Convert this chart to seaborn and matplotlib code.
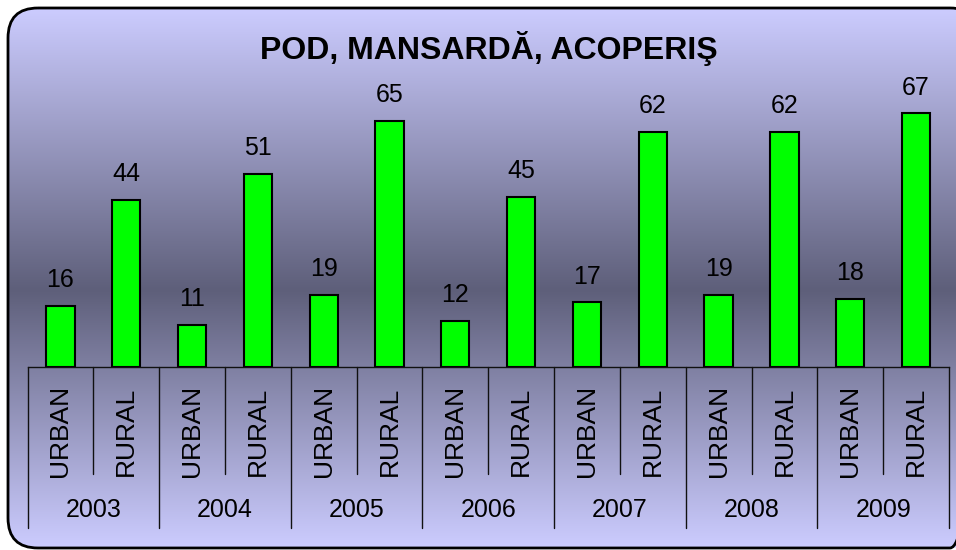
import numpy as np
import pandas as pd
import matplotlib
matplotlib.use("Agg")
import matplotlib.pyplot as plt
from matplotlib.patches import FancyBboxPatch
import seaborn as sns

# data
years = ["2003", "2004", "2005", "2006", "2007", "2008", "2009"]
areas = ["URBAN", "RURAL"]
urban = [16, 11, 19, 12, 17, 19, 18]
rural = [44, 51, 65, 45, 62, 62, 67]
title = "POD, MANSARDĂ, ACOPERIŞ"

rows = []
for y, u, r in zip(years, urban, rural):
    rows.append({"slot": f"{y} URBAN", "year": y, "area": "URBAN", "value": u})
    rows.append({"slot": f"{y} RURAL", "year": y, "area": "RURAL", "value": r})
df = pd.DataFrame(rows)

sns.set_theme(style="white")
plt.rcParams["font.family"] = ["Liberation Sans", "DejaVu Sans"]
plt.rcParams["text.color"] = "black"

W, H = 956, 550
fig = plt.figure(figsize=(W / 100, H / 100), dpi=100)

# --- background: rounded box with vertical gradient ---
bg = fig.add_axes([0, 0, 1, 1], zorder=0)
bg.set_xlim(0, W)
bg.set_ylim(H, 0)
bg.axis("off")
light = np.array([204, 204, 255]) / 255
dark = np.array([94, 95, 122]) / 255
yy = np.linspace(8, 548, 400)
t = np.where(yy < 290, (yy - 8) / (290 - 8), (548 - yy) / (548 - 290))
grad = light[None, :] * (1 - t[:, None]) + dark[None, :] * t[:, None]
img = bg.imshow(grad[:, None, :], extent=[8, 980, 548, 8], aspect="auto", interpolation="bilinear")
box = FancyBboxPatch((8, 8), 972, 540, boxstyle="round,pad=0,rounding_size=30",
                     facecolor="none", edgecolor="black", linewidth=2)
bg.add_patch(box)
img.set_clip_path(box)

fig.text(489 / W, 1 - 49 / H, title, ha="center", va="center",
         fontsize=23, fontweight="bold", color="black")

# --- main chart ---
left, right, base, top = 27.5, 949, 366.7, 80
ax = fig.add_axes([left / W, 1 - base / H, (right - left) / W, (base - top) / H], zorder=1)
ax.set_facecolor("none")
order = list(df["slot"])
sns.barplot(data=df, x="slot", y="value", order=order, color="#00FF00", saturation=1,
            edgecolor="black", linewidth=1.5, width=0.43, ax=ax)
ax.set_xlim(-0.5, len(order) - 0.5)
ax.set_ylim(0, (base - top) / 3.78)
ax.bar_label(ax.containers[0], padding=10, fontsize=18, color="black")

for s in ["top", "left", "right"]:
    ax.spines[s].set_visible(False)
ax.spines["bottom"].set_color("#111111")
ax.spines["bottom"].set_linewidth(1)
ax.set_xticks([])
ax.set_yticks([])
ax.set_xlabel("")
ax.set_ylabel("")

# category table below the axis
ah = base - top
tr = ax.get_xaxis_transform()
def frac(px):
    return -(px - base) / ah

for i, area in enumerate(df["area"]):
    ax.text(i, frac(431), area, rotation=90, ha="center", va="center",
            fontsize=19, color="black", transform=tr)
for j, y in enumerate(years):
    ax.text(2 * j + 0.5, frac(510), y, ha="center", va="center", fontsize=18,
            color="black", transform=tr)
    ax.plot([2 * j + 0.5, 2 * j + 0.5], [0, frac(474)], color="#111111", lw=1,
            transform=tr, clip_on=False)
for k in range(len(years) + 1):
    x = 2 * k - 0.5
    ax.plot([x, x], [0, frac(528)], color="#111111", lw=1, transform=tr, clip_on=False)

fig.savefig("out.png", dpi=100)
